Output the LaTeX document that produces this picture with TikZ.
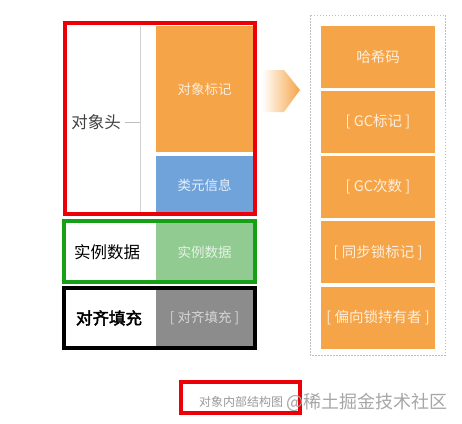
\documentclass[tikz,border=0pt]{standalone}
\usepackage{fontspec}
\setmainfont{Noto Sans CJK SC}[AutoFakeBold=2.5]
\definecolor{hdorange}{HTML}{F6A448}
\definecolor{hdblue}{HTML}{6FA3DA}
\definecolor{hdgreen}{HTML}{92CB92}
\definecolor{hdgray}{HTML}{8C8C8C}
\definecolor{boxred}{HTML}{EC0008}
\definecolor{boxgreen}{HTML}{16A016}
\tikzset{
  >=latex,
}
\tikzstyle{block}=[inner sep=0pt,minimum width=97,font=\fontsize{13.5}{15}\selectfont]
\tikzstyle{field}=[fill=hdorange,inner sep=0pt,minimum width=114,minimum height=62,
  text=white!82!hdorange,font=\fontsize{14.5}{16}\selectfont]
\tikzstyle{frame}=[line width=4pt]
\tikzstyle{label}=[font=\fontsize{16.5}{18}\selectfont,inner sep=0pt]

\begin{document}
\begin{tikzpicture}[x=1pt,y=-1pt]
        \useasboundingbox (0,0) rectangle (462,423);
        % left side: object layout
        \node[block,fill=hdorange,minimum height=126,text=white!80!hdorange] (mark) at (204.5,89) {对象标记};
        \node[block,fill=hdblue,minimum height=59,text=white!85!hdblue] (klass) at (204.5,185.5) {类元信息};
        \node[block,fill=hdgreen,minimum height=59,text=white!75!hdgreen] (inst) at (204.5,252.5) {实例数据};
        \node[block,fill=hdgray,minimum height=56,text=white!65!hdgray] (pad) at (204.5,318) {[ 对齐填充 ]};
        \draw[gray!35,thick] (140,26)--(140,215);
        \node[label,text=black!75] (head) at (96,122) {对象头};
        \draw[gray!50] (head.east)++(4,0) coordinate (t) -- (140,122);
        \node[label] (instl) at (107,252) {实例数据};
        \node[label,font=\fontsize{16.5}{18}\selectfont\bfseries] (padl) at (109,318) {对齐填充};
        \draw[frame,boxred] (65,23) rectangle (255,214);
        \draw[frame,boxgreen,line width=3.5pt] (64,221) rectangle (255,282);
        \draw[frame,black] (64,288) rectangle (255,348);
        % arrow
        \shade[left color=white,right color=hdorange] (262,70)--(284,70)--(300,90)--(284,112)--(262,112)--cycle;
        % right side: mark word
        \draw[gray!50,dash pattern=on 1.5pt off 1.5pt] (310,15) rectangle (445,355);
        \foreach \txt [count=\i] in {哈希码,{[ GC标记 ]},{[ GC次数 ]},{[ 同步锁标记 ]},{[ 偏向锁持有者 ]}}
          \node[field] (f\i) at (378,{56.5+65.25*(\i-1)}) {\txt};
        % caption
        \node[font=\fontsize{12}{14}\selectfont,text=gray!80,inner sep=0pt] (cap) at (241,402) {对象内部结构图};
        \draw[boxred,line width=3.5pt] (181,382) rectangle (300,413);
        \node[font=\fontsize{18}{20}\selectfont,text=gray!70,inner sep=0pt,anchor=west] (wm) at (286,402) {@稀土掘金技术社区};
      \end{tikzpicture}
\end{document}
